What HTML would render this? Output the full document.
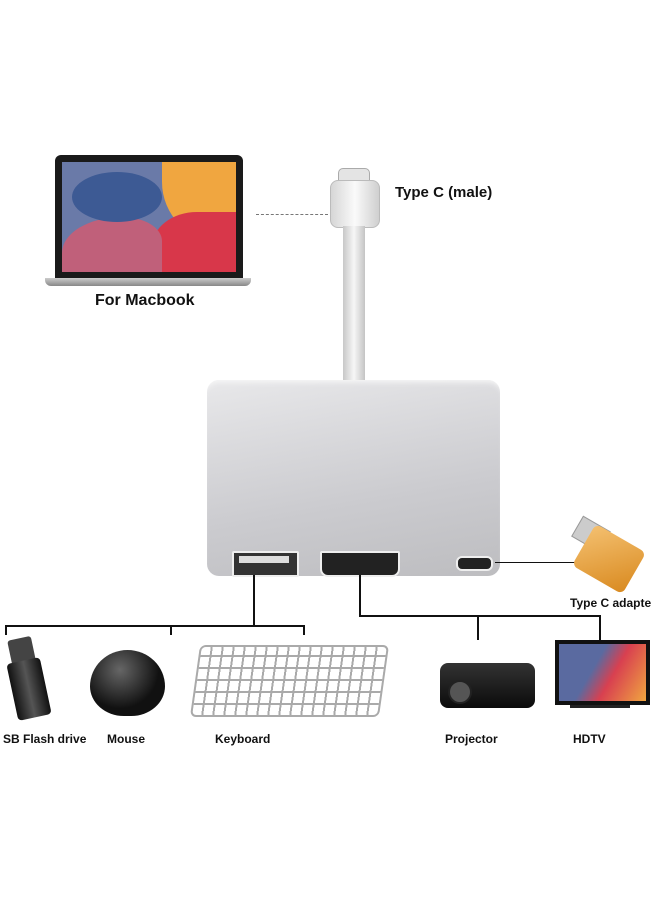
<!DOCTYPE html>
<html><head><meta charset="utf-8"><style>
body{margin:0;width:660px;height:900px;background:#fff;position:relative;overflow:hidden;font-family:"Liberation Sans",Arial,sans-serif;}
.a{position:absolute}
.t{position:absolute;font-weight:bold;color:#111}
.l{position:absolute;background:#111}
</style></head><body>
<!-- laptop -->
<div class="a" style="left:55px;top:155px;width:188px;height:124px;background:#1a1a1a;border-radius:6px 6px 0 0"></div>
<div class="a" style="left:62px;top:162px;width:174px;height:110px;overflow:hidden;background:#6a7aa8">
 <div class="a" style="left:100px;top:0;width:80px;height:80px;background:#f0a640;border-radius:0 0 0 60px"></div>
 <div class="a" style="left:90px;top:50px;width:90px;height:70px;background:#d8374a;border-radius:50% 0 0 0"></div>
 <div class="a" style="left:0;top:55px;width:100px;height:60px;background:#c0607a;border-radius:60% 40% 0 0"></div>
 <div class="a" style="left:10px;top:10px;width:90px;height:50px;background:#3d5a94;border-radius:50%"></div>
</div>
<div class="a" style="left:45px;top:278px;width:206px;height:8px;background:linear-gradient(#ccc,#888);border-radius:0 0 6px 6px"></div>
<div class="t" style="left:95px;top:292px;font-size:16px">For Macbook</div>
<!-- dashed -->
<div class="a" style="left:256px;top:214px;width:72px;border-top:1px dashed #777"></div>
<!-- type c plug -->
<div class="a" style="left:338px;top:168px;width:30px;height:14px;background:#e4e4e4;border:1px solid #aaa;border-radius:5px 5px 0 0"></div>
<div class="a" style="left:330px;top:180px;width:48px;height:46px;background:linear-gradient(90deg,#d6d6d6,#fafafa,#cfcfcf);border:1px solid #bbb;border-radius:8px"></div>
<div class="a" style="left:343px;top:226px;width:22px;height:154px;background:linear-gradient(90deg,#c8c8c8,#f6f6f6,#c4c4c4)"></div>
<div class="t" style="left:395px;top:184px;font-size:15px">Type C (male)</div>
<!-- hub -->
<div class="a" style="left:207px;top:380px;width:293px;height:196px;background:linear-gradient(170deg,#e8e8ea,#cbcbcf 60%,#bdbdc0);border-radius:12px;box-shadow:inset 0 6px 6px -4px #f8f8f8"></div>
<div class="a" style="left:232px;top:551px;width:63px;height:22px;background:#333;border-radius:2px;border:2px solid #eee"></div>
<div class="a" style="left:239px;top:556px;width:50px;height:7px;background:#ddd"></div>
<div class="a" style="left:320px;top:551px;width:76px;height:22px;background:#222;border:2px solid #eee;border-radius:2px 2px 8px 8px"></div>
<div class="a" style="left:456px;top:556px;width:33px;height:11px;background:#222;border-radius:6px;border:2px solid #eee"></div>
<!-- adapter -->
<div class="l" style="left:495px;top:562px;width:80px;height:1px"></div>
<div class="a" style="left:575px;top:522px;width:30px;height:22px;background:#ccc;border:1px solid #999;transform:rotate(30deg)"></div>
<div class="a" style="left:580px;top:535px;width:58px;height:48px;background:linear-gradient(135deg,#f4c070,#d98a20);border-radius:6px;transform:rotate(30deg)"></div>
<div class="t" style="left:570px;top:596px;font-size:12px">Type C adapte</div>
<!-- lines left -->
<div class="l" style="left:253px;top:575px;width:2px;height:52px"></div>
<div class="l" style="left:5px;top:625px;width:300px;height:2px"></div>
<div class="l" style="left:5px;top:625px;width:2px;height:10px"></div>
<div class="l" style="left:170px;top:625px;width:2px;height:10px"></div>
<div class="l" style="left:303px;top:625px;width:2px;height:10px"></div>
<!-- lines right -->
<div class="l" style="left:359px;top:575px;width:2px;height:42px"></div>
<div class="l" style="left:359px;top:615px;width:242px;height:2px"></div>
<div class="l" style="left:477px;top:615px;width:2px;height:25px"></div>
<div class="l" style="left:599px;top:615px;width:2px;height:25px"></div>
<!-- flash drive -->
<div class="a" style="left:10px;top:638px;width:24px;height:30px;background:#444;border-radius:3px;transform:rotate(-12deg)"></div>
<div class="a" style="left:12px;top:660px;width:34px;height:58px;background:linear-gradient(90deg,#111,#555,#111);border-radius:4px;transform:rotate(-12deg)"></div>
<!-- mouse -->
<div class="a" style="left:90px;top:650px;width:75px;height:66px;background:radial-gradient(circle at 40% 30%,#666,#111 60%);border-radius:50% 50% 45% 45%/55% 55% 45% 45%"></div>
<!-- keyboard -->
<div class="a" style="left:195px;top:645px;width:185px;height:68px;background:repeating-linear-gradient(0deg,transparent 0 10px,#aaa 10px 12px),repeating-linear-gradient(90deg,#fff 0 9px,#aaa 9px 11px);border:2px solid #aaa;border-radius:6px;transform:skewX(-8deg)"></div>
<!-- projector -->
<div class="a" style="left:440px;top:663px;width:95px;height:45px;background:linear-gradient(#333,#0b0b0b);border-radius:8px"></div>
<div class="a" style="left:448px;top:680px;width:20px;height:20px;background:#555;border-radius:50%;border:2px solid #222"></div>
<!-- TV -->
<div class="a" style="left:555px;top:640px;width:95px;height:65px;background:#111"></div>
<div class="a" style="left:559px;top:644px;width:87px;height:57px;background:linear-gradient(120deg,#5a6aa0 40%,#d84050 60%,#f0a640)"></div>
<div class="a" style="left:570px;top:705px;width:60px;height:3px;background:#222"></div>
<!-- labels -->
<div class="t" style="left:3px;top:732px;font-size:12px">SB Flash drive</div>
<div class="t" style="left:107px;top:732px;font-size:12px">Mouse</div>
<div class="t" style="left:215px;top:732px;font-size:12px">Keyboard</div>
<div class="t" style="left:445px;top:732px;font-size:12px">Projector</div>
<div class="t" style="left:573px;top:732px;font-size:12px">HDTV</div>
</body></html>
